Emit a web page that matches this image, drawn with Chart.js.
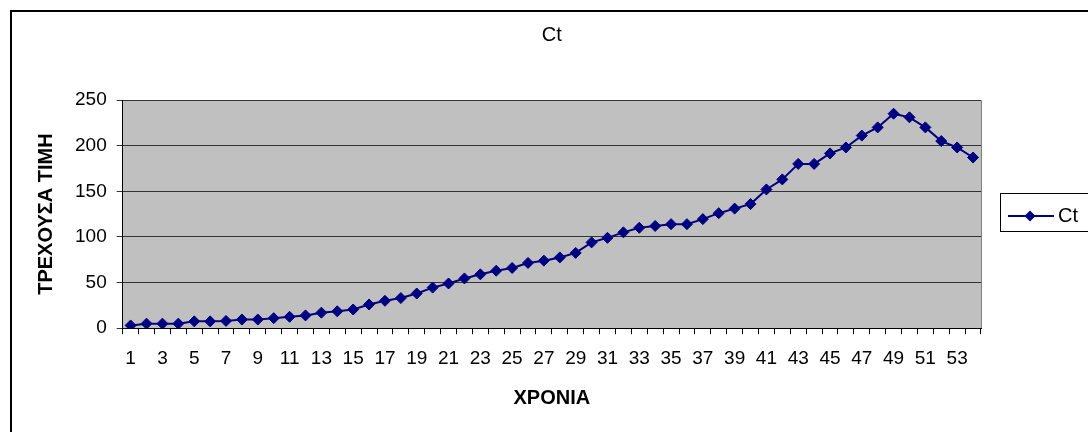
<!DOCTYPE html>
<html>
<head>
<meta charset="utf-8">
<script src="https://cdn.jsdelivr.net/npm/chart.js@4"></script>
<style>
  body { margin: 0; background: #fff; }
  #wrap { width: 1088px; height: 432px; position: relative; }
</style>
</head>
<body>
<div id="wrap"><canvas id="ctChart"></canvas></div>
<script>
const years = [];
for (let i = 1; i <= 54; i++) years.push(String(i));

const ctValues = [
  3, 5, 5, 5, 7.5, 7.5, 8, 9.5, 9.5, 11,
  12.5, 14, 17, 18.5, 20.5, 26, 30, 33, 38, 44.5,
  49, 54.5, 59, 63, 66, 71.5, 74, 77.5, 82.5, 94,
  99, 105, 110, 112, 114, 114, 119.5, 126, 131, 136,
  152, 163, 180, 180, 191.5, 198, 211, 220, 235, 231,
  220, 205, 198, 187
];

const yTicks = [0, 50, 100, 150, 200, 250];

const font = "'Liberation Sans', Arial, sans-serif";

const frame = {
  id: "frame",
  beforeDraw(chart) {
    const { ctx, chartArea: a } = chart;
    ctx.save();
    ctx.fillStyle = "#c0c0c0";
    ctx.fillRect(a.left, a.top, a.right - a.left, a.bottom - a.top);
    ctx.strokeStyle = "#808080";
    ctx.lineWidth = 1;
    ctx.beginPath();
    ctx.moveTo(a.left, a.top + 0.5);
    ctx.lineTo(a.right + 0.5, a.top + 0.5);
    ctx.lineTo(a.right + 0.5, a.bottom);
    ctx.stroke();
    ctx.strokeStyle = "#000";
    ctx.lineWidth = 2;
    ctx.strokeRect(11, 11, 1200, 600);
    // chart title, centred on the plot area
    ctx.fillStyle = "#000";
    ctx.font = "20px " + font;
    ctx.textAlign = "center";
    ctx.textBaseline = "middle";
    ctx.fillText("Ct", (a.left + a.right) / 2, 35);
    ctx.restore();
  },
  afterDraw(chart) {
    const ctx = chart.ctx;
    ctx.save();
    ctx.fillStyle = "#fff";
    ctx.fillRect(1000, 193, 100, 38);
    ctx.strokeStyle = "#000";
    ctx.lineWidth = 1;
    ctx.strokeRect(1000.5, 193.5, 100, 38);
    ctx.strokeStyle = "#000080";
    ctx.lineWidth = 2;
    ctx.beginPath();
    ctx.moveTo(1008, 216);
    ctx.lineTo(1054, 216);
    ctx.stroke();
    ctx.fillStyle = "#000080";
    ctx.beginPath();
    ctx.moveTo(1030, 210.5);
    ctx.lineTo(1035.5, 216);
    ctx.lineTo(1030, 221.5);
    ctx.lineTo(1024.5, 216);
    ctx.closePath();
    ctx.fill();
    ctx.fillStyle = "#000";
    ctx.font = "20px " + font;
    ctx.textBaseline = "middle";
    ctx.fillText("Ct", 1058, 216);
    ctx.restore();
  }
};

new Chart(document.getElementById("ctChart"), {
  type: "line",
  data: {
    labels: years,
    datasets: [
      {
        label: "Ct",
        data: ctValues,
        borderColor: "#000080",
        backgroundColor: "#000080",
        borderWidth: 2,
        pointStyle: "rectRot",
        pointRadius: 5.5,
        pointBorderWidth: 1,
        tension: 0,
      },
    ],
  },
  options: {
    responsive: true,
    maintainAspectRatio: false,
    animation: false,
    layout: {
      padding: { top: 100, left: 34, right: 107, bottom: 22 },
    },
    scales: {
      x: {
        offset: true,
        grid: {
          display: true,
          drawOnChartArea: false,
          drawTicks: true,
          tickLength: 6,
          offset: true,
          color: "#000",
        },
        border: { color: "#000", width: 1 },
        ticks: {
          autoSkip: false,
          maxRotation: 0,
          color: "#000",
          font: { family: font, size: 19 },
          padding: 13,
          callback: function (value, index) {
            return index % 2 === 0 ? this.getLabelForValue(value) : "";
          },
        },
        title: {
          display: true,
          text: "ΧΡΟΝΙΑ",
          color: "#000",
          font: { family: font, size: 20, weight: "bold" },
          padding: { top: 3, bottom: 0 },
        },
      },
      y: {
        min: 0,
        max: 250,
        afterBuildTicks: function (axis) {
          axis.ticks = yTicks.map((v) => ({ value: v }));
        },
        grid: {
          color: "#333",
          tickLength: 6,
        },
        border: { color: "#000", width: 1 },
        ticks: {
          color: "#000",
          font: { family: font, size: 19 },
          padding: 10,
        },
        title: {
          display: true,
          text: "ΤΡΕΧΟΥΣΑ ΤΙΜΗ",
          color: "#000",
          font: { family: font, size: 20, weight: "bold" },
          padding: { top: 0, bottom: 7 },
        },
      },
    },
    plugins: {
      legend: { display: false },
      tooltip: { enabled: false },
      title: { display: false },
    },
  },
  plugins: [frame],
});
</script>
</body>
</html>
